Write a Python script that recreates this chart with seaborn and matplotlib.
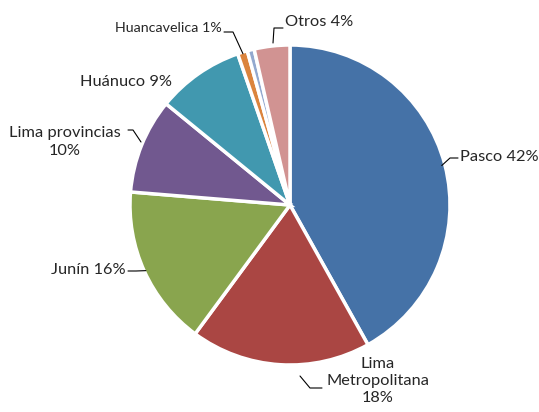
import numpy as np
import matplotlib
matplotlib.use("Agg")
import matplotlib.pyplot as plt
import seaborn as sns

# Participación por región
regions = ["Pasco", "Lima\nMetropolitana", "Junín", "Lima provincias", "Huánuco",
           "Huancavelica", "", "Otros"]
shares = [41.9, 18.2, 16.2, 9.6, 8.8, 1.0, 0.7, 3.6]
colors = ["#4572A7", "#AA4643", "#89A54E", "#71588F", "#4198AF",
          "#DB843D", "#93A9CF", "#D19392"]

sns.set_theme(style="white")
plt.rcParams["font.family"] = ["Lato", "DejaVu Sans"]

W, H = 539, 412
fig = plt.figure(figsize=(W / 100, H / 100), dpi=100)
ax = fig.add_axes([0, 0, 1, 1])

cx, cy, r = 290, H - 205, 160
wedges, _ = ax.pie(shares, colors=colors, startangle=90, counterclock=False,
                   center=(cx, cy), radius=r,
                   wedgeprops=dict(edgecolor="white", linewidth=2.5))
ax.set_xlim(0, W)
ax.set_ylim(0, H)
ax.set_aspect("equal")
ax.axis("off")


def edge_point(w, frac=1.0):
    ang = np.deg2rad((w.theta1 + w.theta2) / 2)
    return cx + frac * r * np.cos(ang), cy + frac * r * np.sin(ang)


def py(y):
    return H - y


fs = 11.8
line_kw = dict(color="black", lw=0.8)

# Pasco
x0, y0 = edge_point(wedges[0], 0.98)
ax.plot([x0, 450, 458], [y0, py(158), py(158)], **line_kw)
ax.text(460, py(157), f"Pasco {round(shares[0])}%", ha="left", va="center", fontsize=fs)

# Lima Metropolitana
ax.plot([300, 310, 322], [py(376), py(388), py(388)], **line_kw)
ax.text(378, py(381), f"{regions[1]}\n{round(shares[1])}%", ha="center", va="center",
        fontsize=fs, linespacing=1.3)

# Junín
x0, y0 = edge_point(wedges[2], 0.99)
ax.plot([128, 136, x0], [py(271), py(271), y0], **line_kw)
ax.text(126, py(270), f"{regions[2]} {round(shares[2])}%", ha="right", va="center", fontsize=fs)

# Lima provincias
ax.plot([128, 133, 141], [py(130), py(130), py(142)], **line_kw)
ax.text(65, py(142), f"{regions[3]}\n{round(shares[3])}%", ha="center", va="center",
        fontsize=fs, linespacing=1.3)

# Huánuco
ax.text(172, py(82), f"{regions[4]} {round(shares[4])}%", ha="right", va="center", fontsize=fs)

# Huancavelica
x0, y0 = edge_point(wedges[5], 0.99)
ax.plot([224, 233, x0], [py(32), py(32), y0], **line_kw)
ax.text(222, py(28), f"{regions[5]} {round(shares[5])}%", ha="right", va="center", fontsize=10.3)

# Otros
ax.plot([273, 274, 283], [py(43), py(28), py(28)], **line_kw)
ax.text(285, py(22), f"{regions[7]} {round(shares[7])}%", ha="left", va="center", fontsize=fs)

fig.savefig("out.png", dpi=100)
